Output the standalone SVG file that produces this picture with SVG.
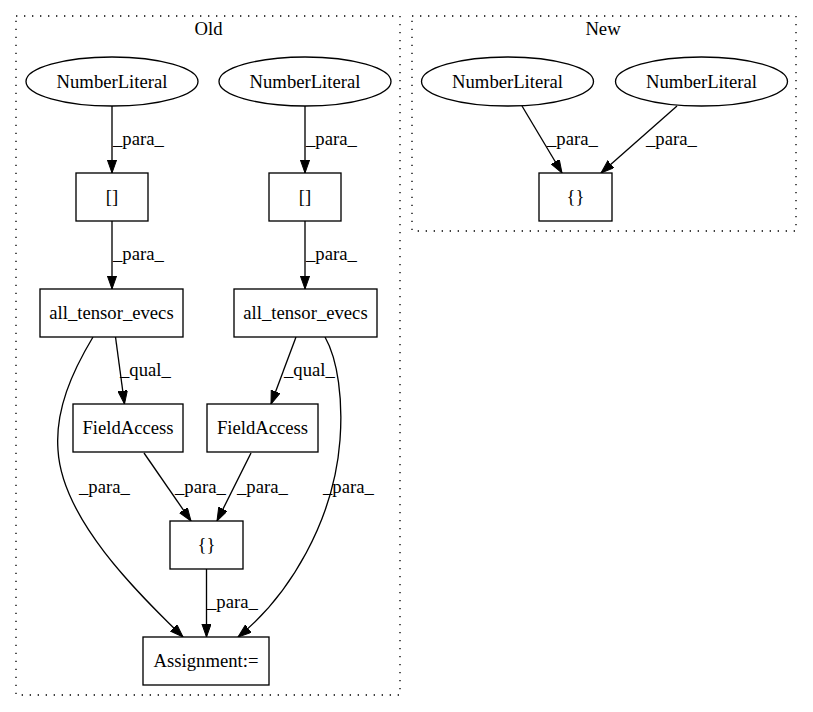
<svg xmlns="http://www.w3.org/2000/svg" width="813" height="712" viewBox="0 0 813 712">
<defs>
<style>
text{font-family:"Liberation Serif","Times New Roman",serif;font-size:18.67px;fill:#000}
.c{text-anchor:middle}
.cl{fill:none;stroke:#000;stroke-width:1.33;stroke-dasharray:1.33,6.67}
.n{fill:#fff;stroke:#000;stroke-width:1.33}
.e{fill:none;stroke:#000;stroke-width:1.33;marker-end:url(#ah)}
</style>
<marker id="ah" markerUnits="userSpaceOnUse" markerWidth="14" markerHeight="10" refX="13.3" refY="4.7" orient="auto">
<path d="M0,0 L13.3,4.7 L0,9.4 z" fill="#000" stroke="#000" stroke-width="1"/>
</marker>
</defs>
<rect width="813" height="712" fill="#fff"/>
<g id="cluster_old">
<rect class="cl" x="16" y="16" width="384" height="679"/>
<text class="c" x="208.5" y="35">Old</text>
</g>
<g id="cluster_new">
<rect class="cl" x="412" y="16" width="384" height="215"/>
<text class="c" x="603" y="35">New</text>
</g>
<g id="edges">
<path class="e" d="M112,106 L112,173"/>
<text x="113" y="145">_para_</text>
<path class="e" d="M305,106 L305,173"/>
<text x="306" y="145">_para_</text>
<path class="e" d="M112,221 L112,289"/>
<text x="113" y="260">_para_</text>
<path class="e" d="M305,221 L305,289"/>
<text x="306" y="260">_para_</text>
<path class="e" d="M115.5,337 L124.5,404"/>
<text x="120" y="376">_qual_</text>
<path class="e" d="M296,337 L271,404"/>
<text x="284" y="376">_qual_</text>
<path class="e" d="M93,337 C72,372 55,410 58,450 C62,520 140,595 183,637"/>
<text x="79" y="493">_para_</text>
<path class="e" d="M144,453 L191,521"/>
<text x="175" y="493">_para_</text>
<path class="e" d="M251,453 L217,521"/>
<text x="237" y="493">_para_</text>
<path class="e" d="M325,337 C338,360 343,400 340,440 C334,520 290,595 238,637"/>
<text x="323" y="493">_para_</text>
<path class="e" d="M206.5,569 L206.5,637"/>
<text x="207" y="608">_para_</text>
<path class="e" d="M522,106 L562,173"/>
<text x="547" y="145">_para_</text>
<path class="e" d="M677,106 L601,173"/>
<text x="646" y="145">_para_</text>
</g>
<g id="nl1"><ellipse class="n" cx="112" cy="81.5" rx="86" ry="24.5"/><text class="c" x="112" y="87.5">NumberLiteral</text></g>
<g id="nl2"><ellipse class="n" cx="305" cy="81.5" rx="86" ry="24.5"/><text class="c" x="305" y="87.5">NumberLiteral</text></g>
<g id="idx1"><rect class="n" x="76" y="173" width="72" height="48"/><text class="c" x="112" y="203">[]</text></g>
<g id="idx2"><rect class="n" x="269" y="173" width="72" height="48"/><text class="c" x="305" y="203">[]</text></g>
<g id="ate1"><rect class="n" x="40" y="289" width="143" height="48"/><text class="c" x="111.5" y="319">all_tensor_evecs</text></g>
<g id="ate2"><rect class="n" x="234" y="289" width="143" height="48"/><text class="c" x="305.5" y="319">all_tensor_evecs</text></g>
<g id="fa1"><rect class="n" x="73" y="404" width="110" height="48"/><text class="c" x="128" y="434">FieldAccess</text></g>
<g id="fa2"><rect class="n" x="207" y="404" width="111" height="48"/><text class="c" x="262.5" y="434">FieldAccess</text></g>
<g id="braces_old"><rect class="n" x="170" y="521" width="73" height="48"/><text class="c" x="206.5" y="551">{}</text></g>
<g id="assign"><rect class="n" x="143" y="637" width="126" height="48"/><text class="c" x="206" y="667">Assignment:=</text></g>
<g id="nl3"><ellipse class="n" cx="507.5" cy="81.5" rx="86" ry="24.5"/><text class="c" x="507.5" y="87.5">NumberLiteral</text></g>
<g id="nl4"><ellipse class="n" cx="701.5" cy="81.5" rx="86" ry="24.5"/><text class="c" x="701.5" y="87.5">NumberLiteral</text></g>
<g id="braces_new"><rect class="n" x="539" y="173" width="73" height="48"/><text class="c" x="575.5" y="203">{}</text></g>
</svg>
